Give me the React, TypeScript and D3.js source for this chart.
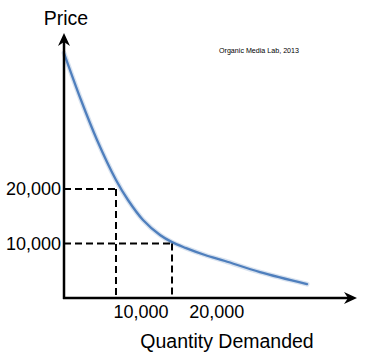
import React from 'react'
import * as d3 from 'd3'

// demand curve: [quantity, price]
const curveQuantity = [0, 2240, 4350, 6850, 8430, 10410, 12650, 14230, 16000, 18575, 21210, 25820, 32015]
const curvePrice = [44950, 36330, 29000, 21650, 17980, 14310, 11560, 10250, 9200, 7890, 6790, 4750, 2550]

// dashed guides: price level and the quantity marked under it
const guidePrice = [20000, 10000]
const guideQuantity = [6850, 14230]

const xTicks = [10000, 20000]
const yTicks = [20000, 10000]

const W = 377
const H = 358
const fmt = d3.format(',d')

export default function App() {
  const x = d3.scaleLinear().domain([0, 38600]).range([64, 357])
  const y = d3.scaleLinear().domain([0, 20000]).range([298, 189])

  const pts: [number, number][] = curveQuantity.map((q, i) => [x(q), y(curvePrice[i])])
  const line = d3.line().curve(d3.curveCatmullRom.alpha(0.5))
  const path = line(pts) || ''

  const x0 = x(0)
  const y0 = y(0)
  const yTop = 33
  const xEnd = 357

  const font = '"Liberation Sans", Arial, sans-serif'

  return (
    <svg width={W} height={H} style={{ position: 'absolute', left: 0, top: 0, background: '#fff' }}>
      {/* the curve with a soft glow */}
      <path d={path} fill="none" stroke="#a9bfdc" strokeWidth={5} strokeOpacity={0.45} strokeLinecap="round" />
      <path d={path} fill="none" stroke="#4f7fbd" strokeWidth={2.3} strokeLinecap="round" />

      {/* dashed guides */}
      {guidePrice.map((p, i) => (
        <g key={i} stroke="#000" strokeWidth={2} strokeDasharray="7,4" fill="none">
          <line x1={x0} x2={x(guideQuantity[i])} y1={y(p)} y2={y(p)} />
          <line x1={x(guideQuantity[i])} x2={x(guideQuantity[i])} y1={y(p)} y2={y0} />
        </g>
      ))}

      {/* axes */}
      <line x1={x0} x2={x0} y1={y0 + 1} y2={yTop + 6} stroke="#000" strokeWidth={2.5} />
      <line x1={x0 - 1} x2={xEnd - 6} y1={y0} y2={y0} stroke="#000" strokeWidth={2.5} />
      <path d={`M${x0},${yTop} L${x0 + 6},${yTop + 13} L${x0},${yTop + 9} L${x0 - 6},${yTop + 13} Z`} fill="#000" />
      <path d={`M${xEnd},${y0} L${xEnd - 13},${y0 - 6} L${xEnd - 9},${y0} L${xEnd - 13},${y0 + 6} Z`} fill="#000" />

      {/* tick labels */}
      {yTicks.map(t => (
        <text key={t} x={61} y={y(t)} dy="0.36em" textAnchor="end" fontFamily={font} fontSize={18} fill="#000">
          {fmt(t)}
        </text>
      ))}
      {xTicks.map(t => (
        <text key={t} x={x(t) + 1} y={318} textAnchor="middle" fontFamily={font} fontSize={18} fill="#000">
          {fmt(t)}
        </text>
      ))}

      <text x={66} y={25} textAnchor="middle" fontFamily={font} fontSize={19.5} fill="#000">Price</text>
      <text x={227} y={348} textAnchor="middle" fontFamily={font} fontSize={19.5} fill="#000">Quantity Demanded</text>
      <text x={219} y={53} fontFamily={font} fontSize={7.5} textLength={80} lengthAdjust="spacingAndGlyphs" fill="#000">
        Organic Media Lab, 2013
      </text>
    </svg>
  )
}
